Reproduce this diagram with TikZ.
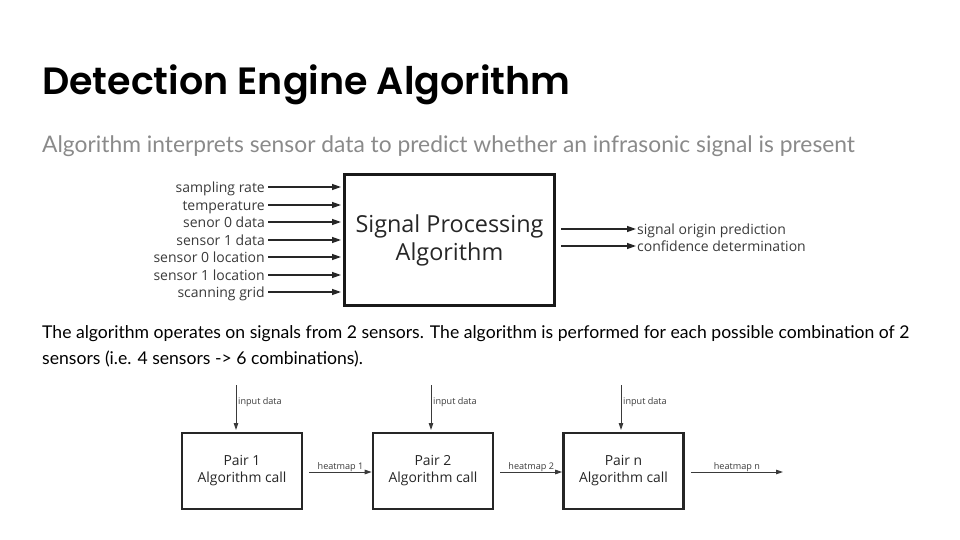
\documentclass[tikz,border=0pt]{standalone}
\usepackage{fontspec}
\setmainfont{Lato}
\newfontfamily\titlefont{Poppins SemiBold}
\newfontfamily\diagfont{Open Sans}
\usetikzlibrary{arrows.meta}
\definecolor{subgray}{HTML}{8A8A8A}
\definecolor{linegray}{HTML}{3A3A3A}
\begin{document}
\begin{tikzpicture}[x=1pt,y=-1pt,
  inlabel/.style={anchor=base east,inner sep=1pt,font=\diagfont\fontsize{14}{16}\selectfont,text=linegray},
  outlabel/.style={anchor=base west,inner sep=1pt,font=\diagfont\fontsize{14}{16}\selectfont,text=linegray},
  feed/.style={-{Triangle[length=9pt,width=6pt]},line width=1.3pt,draw=black!85},
  bigbox/.style={draw=black!90,line width=3.8pt,minimum width=210pt,minimum height=131pt,align=center,
    font=\diagfont\fontsize{23.4}{28}\selectfont,text=black!85},
  pairbox/.style={draw=black!85,line width=2.6pt,minimum width=120pt,minimum height=76pt,align=center,
    font=\diagfont\fontsize{13.9}{17}\selectfont,text=black!85},
  flow/.style={-{Triangle[length=7pt,width=4.5pt]},line width=0.9pt,draw=linegray},
  smalllabel/.style={font=\diagfont\fontsize{9.1}{10}\selectfont,text=linegray,inner sep=1pt}]
\useasboundingbox (0,0) rectangle (960,540);

% heading and body text
\node[anchor=base west,inner sep=0pt,font=\titlefont\fontsize{38}{44}\selectfont] (title) at (42,95) {Detection Engine Algorithm};
\node[anchor=base west,inner sep=0pt,font=\fontsize{22.8}{26}\selectfont,text=subgray] (subtitle) at (42,153)
  {Algorithm interprets sensor data to predict whether an infrasonic signal is present};
\node[anchor=base west,inner sep=0pt,font=\fontsize{17.6}{22}\selectfont] (para1) at (42,338)
  {The algorithm operates on signals from 2 sensors. The algorithm is performed for each possible combination of 2};
\node[anchor=base west,inner sep=0pt,font=\fontsize{17.6}{22}\selectfont] (para2) at (42,364)
  {sensors (i.e. 4 sensors -> 6 combinations).};

% signal processing block with its inputs and outputs
\node[bigbox] (spa) at (449.5,240) {Signal Processing\\Algorithm};

\foreach \name/\txt/\yy in {a/sampling rate/187, b/temperature/205, c/senor 0 data/222,
    d/sensor 1 data/240, e/sensor 0 location/257, f/sensor 1 location/275, g/scanning grid/292}{
  \node[inlabel] (in\name) at (266,\yy+5) {\txt};
  \coordinate (tip\name) at (341,\yy);
  \draw[feed,shorten <=2pt] (in\name.east |- tip\name) -- (tip\name);
}

\coordinate (srca) at (561,229);
\coordinate (srcb) at (561,246);
\node[outlabel] (outa) at (636,234) {signal origin prediction};
\node[outlabel] (outb) at (636,251) {confidence determination};
\draw[feed] (srca) -- (outa.west |- srca);
\draw[feed] (srcb) -- (outb.west |- srcb);

% chain of pairwise algorithm calls
\node[pairbox] (p1) at (242,471) {Pair 1\\Algorithm call};
\node[pairbox] (p2) at (433,471) {Pair 2\\Algorithm call};
\node[pairbox] (pn) at (623.5,471) {Pair n\\Algorithm call};

\foreach \p/\xx in {p1/236, p2/431, pn/621}{
  \coordinate (top\p) at (\xx,385);
  \draw[flow] (top\p) -- (\xx,430);
  \node[smalllabel,anchor=west] (lbl\p) at (\xx+1,402) {input data};
}

\coordinate (end) at (783,472);
\draw[flow] (p1.east |- 0,472) ++(6,0) coordinate (s1) -- (p2.west |- 0,472) node[pos=0.5,smalllabel,above=-1pt] (h1) {heatmap 1};
\draw[flow] (p2.east |- 0,472) ++(6,0) coordinate (s2) -- (pn.west |- 0,472) node[pos=0.5,smalllabel,above=-1pt] (h2) {heatmap 2};
\draw[flow] (pn.east |- 0,472) ++(6,0) coordinate (s3) -- (end) node[pos=0.5,smalllabel,above=-1pt] (hn) {heatmap n};
\end{tikzpicture}
\end{document}
